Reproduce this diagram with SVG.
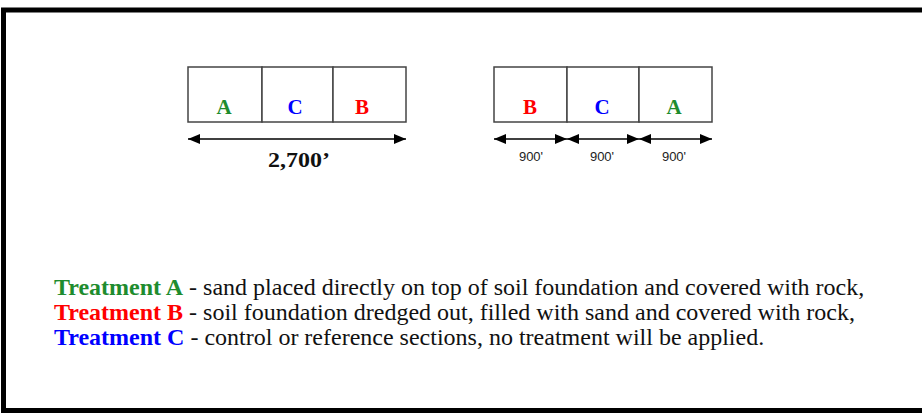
<svg xmlns="http://www.w3.org/2000/svg" width="922" height="413" viewBox="0 0 922 413">
<defs>
<marker id="ah" viewBox="0 0 12 10" refX="12" refY="5" markerWidth="12" markerHeight="10" markerUnits="userSpaceOnUse" orient="auto-start-reverse">
<path d="M0,0 L12,5 L0,10 z" fill="#000"/>
</marker>
<style>
.cell{fill:#fff;stroke:#444;stroke-width:1.5}
.lt{font-family:"Liberation Serif","Times New Roman",serif;font-weight:bold;font-size:21px;text-anchor:middle}
.ga{fill:#1e8c2e}.rb{fill:#ff0000}.bc{fill:#0000ff}
.dim{stroke:#000;stroke-width:1.5;fill:none}
.leg{font-family:"Liberation Serif","Times New Roman",serif;font-size:24px;fill:#111}
.b{font-weight:bold}
.small{font-family:"Liberation Sans",Arial,sans-serif;font-size:13px;fill:#222;text-anchor:middle}
</style>
</defs>
<rect x="0" y="0" width="922" height="413" fill="#fff"/>
<path d="M922,10 L3.5,10 L3.5,410.5 L922,410.5" fill="none" stroke="#000" stroke-width="5"/>
<g id="left-layout">
<rect class="cell" x="188" y="67" width="74" height="55"/>
<rect class="cell" x="262" y="67" width="71" height="55"/>
<rect class="cell" x="333" y="67" width="73" height="55"/>
<text class="lt ga" x="224" y="114">A</text>
<text class="lt bc" x="295" y="114">C</text>
<text class="lt rb" x="362" y="114">B</text>
</g>
<g id="right-layout">
<rect class="cell" x="494" y="67" width="73" height="55"/>
<rect class="cell" x="567" y="67" width="72" height="55"/>
<rect class="cell" x="639" y="67" width="73" height="55"/>
<text class="lt rb" x="530" y="114">B</text>
<text class="lt bc" x="602" y="114">C</text>
<text class="lt ga" x="674" y="114">A</text>
</g>
<g id="connectors">
<line class="dim" x1="188" y1="139" x2="406" y2="139" marker-start="url(#ah)" marker-end="url(#ah)"/>
<line class="dim" x1="494" y1="139" x2="567" y2="139" marker-start="url(#ah)" marker-end="url(#ah)"/>
<line class="dim" x1="567" y1="139" x2="639" y2="139" marker-start="url(#ah)" marker-end="url(#ah)"/>
<line class="dim" x1="639" y1="139" x2="712" y2="139" marker-start="url(#ah)" marker-end="url(#ah)"/>
</g>
<g id="dim-labels">
<text x="268" y="167" font-family="Liberation Serif,Times New Roman,serif" font-weight="bold" font-size="22" textLength="62" lengthAdjust="spacingAndGlyphs" fill="#111">2,700’</text>
<text class="small" x="531" y="161">900'</text>
<text class="small" x="602" y="161">900'</text>
<text class="small" x="674" y="161">900'</text>
</g>
<g id="legend">
<text class="leg" x="54" y="295"><tspan class="b ga">Treatment A</tspan> - sand placed directly on top of soil foundation and covered with rock,</text>
<text class="leg" x="54" y="320"><tspan class="b rb">Treatment B</tspan> - soil foundation dredged out, filled with sand and covered with rock,</text>
<text class="leg" x="54" y="345"><tspan class="b bc">Treatment C</tspan> - control or reference sections, no treatment will be applied.</text>
</g>
</svg>
